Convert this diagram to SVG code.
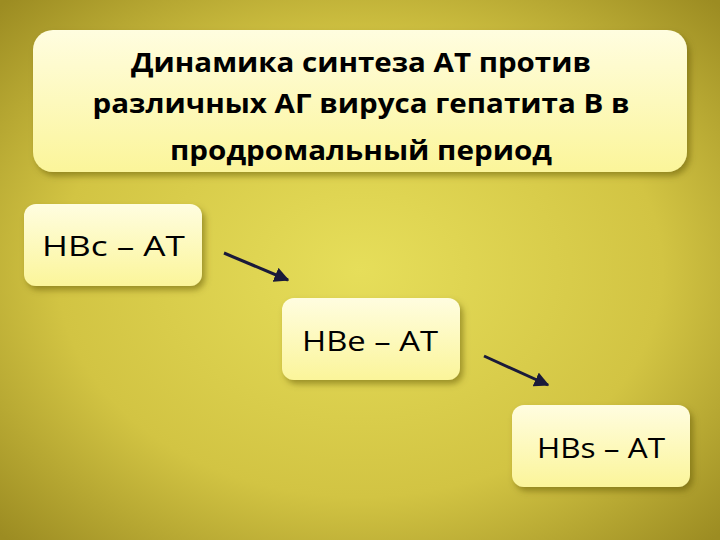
<svg xmlns="http://www.w3.org/2000/svg" width="720" height="540" viewBox="0 0 720 540">
<defs>
<radialGradient id="bg" cx="0.5" cy="0.5" r="0.7">
<stop offset="0" stop-color="#e6de5a"/>
<stop offset="0.6" stop-color="#d2c443"/>
<stop offset="1" stop-color="#9c8c22"/>
</radialGradient>
<linearGradient id="box" x1="0" y1="0" x2="0" y2="1">
<stop offset="0" stop-color="#fffde0"/>
<stop offset="1" stop-color="#fbf59a"/>
</linearGradient>
<filter id="sh" x="-10%" y="-10%" width="130%" height="140%">
<feDropShadow dx="3" dy="4" stdDeviation="3" flood-color="#5a5000" flood-opacity="0.5"/>
</filter>
<marker id="ah" viewBox="0 0 10 10" refX="9" refY="5" markerWidth="5" markerHeight="5" orient="auto">
<path d="M0,0 L10,5 L0,10 z" fill="#1a1a3a"/>
</marker>
<style>
.b{fill:url(#box);filter:url(#sh)}
.t{font-family:"Open Sans","DejaVu Sans",sans-serif;fill:#000}
.h{font-weight:bold;font-size:26px}
.n{font-size:28px}
</style>
</defs>
<rect width="720" height="540" fill="url(#bg)"/>
<g id="title">
<rect class="b" x="33" y="30" width="654" height="142" rx="20"/>
<text class="t h" text-anchor="middle" x="361" y="72" textLength="460" lengthAdjust="spacingAndGlyphs">Динамика синтеза АТ против</text>
<text class="t h" text-anchor="middle" x="361" y="113" textLength="537" lengthAdjust="spacingAndGlyphs">различных АГ  вируса гепатита В в</text>
<text class="t h" text-anchor="middle" x="361" y="160" textLength="382" lengthAdjust="spacingAndGlyphs">продромальный период</text>
</g>
<g id="hbc">
<rect class="b" x="24" y="204" width="178" height="82" rx="12"/>
<text class="t n" x="42" y="256" textLength="143" lengthAdjust="spacingAndGlyphs">HBc – AT</text>
</g>
<g id="hbe">
<rect class="b" x="282" y="298" width="178" height="82" rx="12"/>
<text class="t n" x="302" y="351" textLength="136" lengthAdjust="spacingAndGlyphs">HBe – AT</text>
</g>
<g id="hbs">
<rect class="b" x="512" y="405" width="178" height="82" rx="12"/>
<text class="t n" x="537" y="458" textLength="128" lengthAdjust="spacingAndGlyphs">HBs – AT</text>
</g>
<g id="connectors" stroke="#1a1a3a" stroke-width="3" fill="none">
<path d="M224,253 L288,280" marker-end="url(#ah)"/>
<path d="M484,356 L548,385" marker-end="url(#ah)"/>
</g>
</svg>
